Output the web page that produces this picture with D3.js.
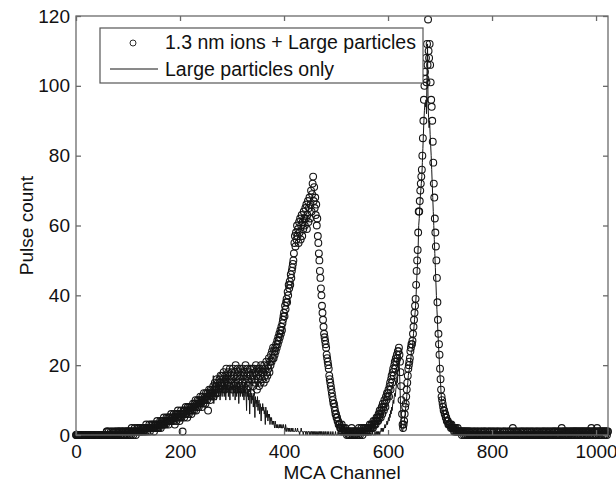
<!DOCTYPE html>
<html>
<head>
<meta charset="utf-8">
<script src="https://cdn.jsdelivr.net/npm/d3@7"></script>
<style>
  body { margin: 0; background: #fff; }
  text { font-family: "Liberation Sans", Arial, Helvetica, sans-serif; fill: #111; }
</style>
</head>
<body>
<svg id="chart" width="616" height="482"></svg>
<script>
// pulse counts per MCA channel (channel = array index, 0..1023)
var ionsPlusLarge = [
  0,0,0,0,0,0,0,0,0,0,0,0,0,0,0,0,0,0,0,0,          // 0
  0,0,0,0,0,0,0,0,0,0,0,0,0,0,0,0,0,0,0,0,          // 20
  0,0,0,0,0,0,0,0,0,0,0,0,0,0,0,0,0,0,0,1,          // 40
  1,0,0,1,0,0,0,1,0,0,1,0,0,0,1,0,1,0,0,1,          // 60
  0,1,0,1,1,0,0,1,0,1,1,0,1,0,0,1,1,0,1,1,          // 80
  0,1,1,0,1,1,0,2,1,1,0,1,1,2,1,0,1,1,2,1,          // 100
  1,2,1,1,2,1,1,2,2,1,2,1,2,2,1,3,2,1,2,2,          // 120
  2,3,1,2,2,3,2,2,3,2,1,3,2,3,2,3,4,2,3,2,          // 140
  3,3,4,2,3,4,3,4,3,5,3,4,4,3,5,4,4,5,3,5,          // 160
  4,5,4,6,4,5,5,4,6,5,3,5,6,4,6,5,7,5,6,4,          // 180
  5,6,7,5,6,1,6,7,5,7,6,8,6,7,5,8,7,6,8,7,          // 200
  7,8,6,8,7,9,8,7,9,8,10,7,9,8,10,9,8,10,9,11,      // 220
  9,10,8,11,10,9,12,10,11,9,12,11,10,12,7,11,13,12,10,13,       // 240
  12,11,13,12,14,11,13,15,12,14,13,16,12,15,14,13,16,15,17,14,  // 260
  15,17,14,16,18,15,13,17,16,19,14,17,15,18,16,14,19,17,15,18,  // 280
  16,13,19,17,14,18,15,20,16,13,17,19,15,18,14,16,19,17,13,18,  // 300
  15,19,17,14,18,16,20,15,13,17,19,16,14,18,15,19,17,12,16,19,  // 320
  17,14,19,16,18,15,20,17,13,19,16,18,14,19,17,15,20,18,16,19,  // 340
  18,15,20,17,19,16,21,18,17,20,19,22,18,21,20,23,21,24,22,25,  // 360
  22,24,23,25,24,26,25,27,26,28,27,29,28,30,29,31,30,32,33,34,  // 380
  35,34,37,36,38,39,38,41,40,43,42,44,43,46,45,47,48,49,50,52,  // 400
  55,57,54,58,56,60,57,59,55,61,58,62,56,60,63,57,61,59,64,62,  // 420
  60,65,62,66,59,63,67,61,65,68,62,66,70,64,69,72,74,67,71,65,  // 440
  68,63,66,60,62,57,55,52,50,47,45,42,40,37,35,33,31,29,28,27,  // 460
  26,25,23,22,21,20,19,17,16,15,14,13,12,11,10,9,9,8,7,6,       // 480
  6,5,5,4,4,3,3,3,2,2,2,3,1,2,1,2,1,1,2,1,          // 500
  1,0,1,1,0,1,0,1,1,0,2,1,0,1,1,0,1,0,1,1,          // 520
  0,1,1,0,2,1,0,1,1,2,1,0,1,2,1,1,2,1,2,1,          // 540
  2,1,2,2,1,3,2,2,3,2,3,2,4,3,3,4,3,4,5,4,          // 560
  5,4,6,5,7,6,5,7,8,6,9,8,7,10,9,8,11,10,12,11,     // 580
  12,13,11,14,15,13,16,17,15,18,19,17,20,21,19,22,21,23,22,24,  // 600
  24,25,23,21,18,14,10,6,3,2,3,4,6,8,9,11,13,15,17,19,          // 620
  20,21,22,24,25,26,26,27,29,31,33,35,37,39,43,47,50,53,58,64,  // 640
  64,67,70,72,74,76,80,85,90,96,100,104,102,108,101,112,106,119,110,108, // 660
  112,106,101,96,94,90,84,78,72,68,62,58,54,50,45,38,33,29,26,23,       // 680
  19,16,13,11,10,9,8,7,7,6,6,5,5,4,4,4,3,3,3,3,     // 700
  3,2,3,2,2,2,2,1,2,1,2,1,1,1,2,1,1,1,1,1,          // 720
  1,1,0,1,1,1,0,1,1,0,1,1,0,1,0,1,1,0,1,0,          // 740
  0,1,0,0,1,0,1,0,0,1,0,0,1,0,1,0,0,0,1,0,          // 760
  1,0,0,1,0,0,1,1,0,0,0,1,0,0,1,0,1,0,0,1,          // 780
  0,0,1,0,1,0,0,0,1,0,1,0,0,1,0,0,1,0,0,0,          // 800
  1,0,0,1,0,1,0,0,0,1,0,0,1,0,0,1,0,0,1,0,          // 820
  2,0,1,0,0,1,0,1,0,0,1,0,0,0,1,0,1,0,0,1,          // 840
  0,1,0,0,1,0,0,1,0,1,0,0,1,0,0,1,0,1,0,0,          // 860
  1,0,0,1,0,0,1,0,1,0,0,1,0,0,1,0,0,1,0,1,          // 880
  0,1,0,0,1,0,1,0,0,1,0,1,0,0,1,0,1,0,0,1,          // 900
  1,0,1,0,0,1,0,1,0,1,0,0,1,0,2,1,0,1,0,1,          // 920
  0,1,0,1,1,0,1,0,0,1,1,0,1,0,1,0,1,1,0,1,          // 940
  1,0,1,1,0,1,0,1,1,0,1,0,1,1,0,1,1,0,1,0,          // 960
  1,1,0,1,0,1,1,0,1,1,0,2,1,0,1,1,0,1,1,0,          // 980
  1,0,2,1,1,0,1,1,0,1,1,0,1,1,1,0,1,1,0,1,          // 1000
  1,0,1,1                                           // 1020
];

var largeOnly = [
  0,0,0,0,0,0,0,0,0,0,0,0,0,0,0,0,0,0,0,0,          // 0
  0,0,0,0,0,0,0,0,0,0,0,0,0,0,0,0,0,0,0,0,          // 20
  0,0,0,0,0,0,0,0,0,0,0,0,0,0,0,0,0,0,0,0,          // 40
  0,0,1,0,0,0,0,1,0,0,0,0,0,1,0,0,0,0,1,0,          // 60
  0,0,1,0,0,1,0,0,0,1,0,0,1,0,0,0,1,0,0,1,          // 80
  0,1,0,0,1,0,1,0,0,1,1,0,0,1,0,1,0,1,1,0,          // 100
  1,0,1,1,0,1,1,0,1,1,0,1,2,1,0,1,1,2,1,1,          // 120
  1,2,1,1,2,1,2,1,2,2,1,2,2,3,1,2,2,3,2,2,          // 140
  2,2,1,3,2,2,3,2,3,2,3,3,4,2,3,3,2,4,3,3,          // 160
  3,4,3,4,5,4,3,5,4,4,5,4,6,4,5,5,6,5,6,5,          // 180
  5,4,6,5,5,6,4,6,5,7,6,5,7,6,7,6,8,7,6,8,          // 200
  7,8,6,8,7,9,8,7,9,8,10,8,7,9,10,8,10,9,11,9,      // 220
  10,9,11,10,8,11,10,12,9,11,10,12,11,9,12,10,13,11,12,10,      // 240
  12,11,14,10,17,9,13,11,14,12,10,13,12,15,11,13,14,10,12,15,   // 260
  13,11,14,12,16,11,13,15,10,14,12,13,16,11,14,13,10,15,12,14,  // 280
  13,15,11,14,12,16,10,14,13,11,15,12,14,9,13,15,11,14,12,13,   // 300
  11,14,12,10,15,11,13,12,7,14,11,13,10,12,6,11,13,9,12,10,     // 320
  11,8,12,10,5,11,9,10,8,11,7,9,10,6,9,8,4,8,7,9,   // 340
  7,8,6,7,3,8,6,5,7,4,6,5,6,3,5,4,5,3,4,3,          // 360
  4,3,2,4,3,2,3,2,3,2,2,3,2,3,2,2,3,2,2,3,          // 380
  2,2,1,3,2,1,2,2,1,2,1,2,1,1,2,1,1,2,1,1,          // 400
  1,1,2,1,1,1,2,1,1,1,0,1,1,2,1,1,1,0,1,1,          // 420
  1,1,0,1,1,0,1,1,1,0,1,0,1,1,0,1,0,1,0,1,          // 440
  1,0,1,0,0,1,0,1,1,0,1,0,1,0,0,1,0,1,0,0,          // 460
  1,0,0,1,0,0,1,0,0,0,1,0,0,0,1,0,0,0,0,1,          // 480
  0,0,0,0,1,0,0,0,0,0,0,0,0,1,0,0,0,0,0,0,          // 500
  0,0,0,0,0,0,0,0,0,0,0,0,0,0,0,0,0,0,0,0,          // 520
  0,0,0,0,0,0,0,0,0,0,0,1,0,0,0,0,0,0,0,0,          // 540
  0,0,0,0,1,0,0,0,0,0,1,0,0,0,0,1,0,0,1,0,          // 560
  1,0,1,1,0,1,1,2,1,1,2,1,2,2,3,2,3,3,4,3,          // 580
  4,5,4,6,5,7,6,8,7,9,10,9,11,12,11,13,14,16,15,18, // 600
  20,22,19,14,9,5,2,1,1,2,2,3,5,6,8,9,11,13,15,17,  // 620
  18,19,20,21,22,24,24,25,27,29,31,33,35,37,40,44,47,50,54,60,  // 640
  62,65,68,70,72,74,78,82,86,90,93,95,94,96,92,104,112,94,91,88, // 660
  90,86,83,80,76,72,68,64,60,56,52,48,44,40,36,33,29,26,23,20,  // 680
  17,15,12,10,9,8,7,6,6,5,5,4,4,3,3,3,2,2,2,2,      // 700
  2,2,1,2,1,1,1,1,1,0,1,1,0,1,0,0,1,0,0,0,          // 720
  0,0,1,0,0,0,0,0,1,0,0,0,0,0,0,1,0,0,0,0,          // 740
  0,0,0,0,0,0,1,0,0,0,0,0,0,0,0,0,0,0,0,0,          // 760
  0,0,0,0,0,0,0,0,0,0,0,0,1,0,0,0,0,0,0,0,          // 780
  0,0,0,0,0,0,0,0,0,0,0,0,0,0,0,0,0,0,0,0,          // 800
  0,0,0,0,1,0,0,0,0,0,0,0,0,0,0,0,0,0,0,0,          // 820
  0,0,0,0,0,0,0,0,0,0,0,0,0,0,0,0,0,0,0,0,          // 840
  0,0,0,0,0,0,0,0,0,0,0,1,0,0,0,0,0,0,0,0,          // 860
  0,0,0,0,0,0,0,0,0,0,0,0,0,0,0,0,0,0,0,0,          // 880
  0,0,0,0,0,0,0,0,0,0,0,0,0,0,0,0,0,0,0,0,          // 900
  0,0,0,0,0,0,0,0,1,0,0,0,0,0,0,0,0,0,0,0,          // 920
  0,0,0,0,0,0,0,0,0,0,0,0,0,0,0,0,0,0,0,0,          // 940
  0,0,0,0,0,0,0,0,0,0,0,0,0,0,0,0,0,0,0,0,          // 960
  0,0,0,0,0,0,0,0,0,0,0,0,0,0,0,0,0,0,0,0,          // 980
  0,0,0,0,0,0,0,0,0,0,0,0,0,0,0,0,0,0,0,0,          // 1000
  0,0,0,0                                           // 1020
];

var xTicks = [0, 200, 400, 600, 800, 1000];
var yTicks = [0, 20, 40, 60, 80, 100, 120];
var seriesNames = ["1.3 nm ions + Large particles", "Large particles only"];

(function() {
  var mLeft = 76, mRight = 608, mTop = 16, mBottom = 435;
  var ink = "#151515", axisColor = "#6a6a6a";

  var svg = d3.select("#chart");

  var x = d3.scaleLinear().domain([0, 1023]).range([mLeft, mRight]);
  var y = d3.scaleLinear().domain([0, 120]).range([mBottom, mTop]);

  // series 1: open circles
  svg.append("g")
    .selectAll("circle")
    .data(ionsPlusLarge)
    .enter()
    .append("circle")
      .attr("cx", function(d, i) { return x(i); })
      .attr("cy", function(d) { return y(d); })
      .attr("r", 3.4)
      .attr("fill", "none")
      .attr("stroke", ink)
      .attr("stroke-width", 1.1);

  // series 2: line
  var line = d3.line()
    .x(function(d, i) { return x(i); })
    .y(function(d) { return y(d); });

  svg.append("path")
    .datum(largeOnly)
    .attr("d", line)
    .attr("fill", "none")
    .attr("stroke", ink)
    .attr("stroke-width", 1);

  // box + inward ticks on all four sides
  svg.append("rect")
    .attr("x", mLeft).attr("y", mTop)
    .attr("width", mRight - mLeft).attr("height", mBottom - mTop)
    .attr("fill", "none")
    .attr("stroke", axisColor)
    .attr("stroke-width", 1.3);

  var styleAxis = function(g) {
    g.select(".domain").remove();
    g.selectAll(".tick line").attr("stroke", axisColor).attr("stroke-width", 1.3);
    g.selectAll(".tick text")
      .attr("font-size", 19)
      .attr("font-family", "Liberation Sans, Arial, sans-serif")
      .attr("fill", "#111");
  };

  svg.append("g")
    .attr("transform", "translate(0," + mBottom + ")")
    .call(d3.axisBottom(x).tickValues(xTicks).tickFormat(d3.format("d"))
      .tickSizeInner(-5).tickSizeOuter(0).tickPadding(10))
    .call(styleAxis);

  svg.append("g")
    .attr("transform", "translate(0," + mTop + ")")
    .call(d3.axisTop(x).tickValues(xTicks).tickSizeInner(-5).tickSizeOuter(0).tickFormat(""))
    .call(styleAxis);

  svg.append("g")
    .attr("transform", "translate(" + mLeft + ",0)")
    .call(d3.axisLeft(y).tickValues(yTicks).tickFormat(d3.format("d"))
      .tickSizeInner(-5).tickSizeOuter(0).tickPadding(6))
    .call(styleAxis);

  svg.append("g")
    .attr("transform", "translate(" + mRight + ",0)")
    .call(d3.axisRight(y).tickValues(yTicks).tickSizeInner(-5).tickSizeOuter(0).tickFormat(""))
    .call(styleAxis);

  // axis titles
  svg.append("text")
    .attr("x", (mLeft + mRight) / 2)
    .attr("y", 479)
    .attr("text-anchor", "middle")
    .attr("font-size", 19)
    .text("MCA Channel");

  svg.append("text")
    .attr("transform", "translate(33," + ((mTop + mBottom) / 2) + ") rotate(-90)")
    .attr("text-anchor", "middle")
    .attr("font-size", 19)
    .text("Pulse count");

  // legend
  var lg = svg.append("g");
  lg.append("rect")
    .attr("x", 100).attr("y", 28)
    .attr("width", 323).attr("height", 55)
    .attr("fill", "#fff")
    .attr("stroke", "#555")
    .attr("stroke-width", 1.2);

  lg.append("circle")
    .attr("cx", 133).attr("cy", 43).attr("r", 3)
    .attr("fill", "none").attr("stroke", ink).attr("stroke-width", 0.9);
  lg.append("line")
    .attr("x1", 110).attr("x2", 158).attr("y1", 69).attr("y2", 69)
    .attr("stroke", ink).attr("stroke-width", 1);

  lg.selectAll("text.leg")
    .data(seriesNames)
    .enter()
    .append("text")
      .attr("class", "leg")
      .attr("x", 165)
      .attr("y", function(d, i) { return 49 + i * 26.5; })
      .attr("font-size", 19.5)
      .text(function(d) { return d; });
})();
</script>
</body>
</html>
